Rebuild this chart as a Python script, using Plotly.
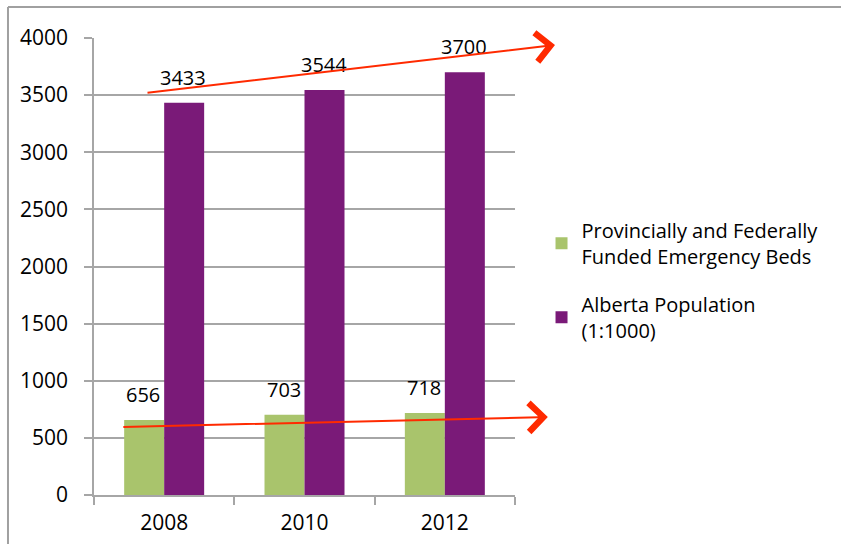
import plotly.graph_objects as go

years = ["2008", "2010", "2012"]
beds = [656, 703, 718]
population = [3433, 3544, 3700]
y_ticks = [0, 500, 1000, 1500, 2000, 2500, 3000, 3500, 4000]

GREEN = "#A9C46C"
PURPLE = "#7A1A78"
RED = "#FF2A00"
GRID = "#A6A6A6"
FONT = "Open Sans"

fig = go.Figure()
fig.add_trace(go.Bar(x=years, y=beds, name="Provincially and Federally<br>Funded Emergency Beds",
                     marker=dict(color=GREEN, line=dict(width=0)), legendgroup="a"))
fig.add_trace(go.Bar(x=years, y=population, name="Alberta Population<br>(1:1000)",
                     marker=dict(color=PURPLE, line=dict(width=0)), legendgroup="b"))

annotations = []
for i, (b, p) in enumerate(zip(beds, population)):
    annotations.append(dict(x=i, y=b, xref="x", yref="y", text=str(b), showarrow=False,
                            xshift=-21, yshift=10, yanchor="bottom",
                            font=dict(family=FONT, size=20, color="black")))
    annotations.append(dict(x=i, y=p, xref="x", yref="y", text=str(p), showarrow=False,
                            xshift=19, yshift=10, yanchor="bottom",
                            font=dict(family=FONT, size=20, color="black")))

# red trend arrows (decorations)
annotations.append(dict(x=1.078, y=0.1707, xref="paper", yref="paper", ax=-426, ay=10,
                        axref="pixel", ayref="pixel", text="", showarrow=True,
                        arrowhead=4, arrowsize=2.8, arrowwidth=2, arrowcolor=RED))
annotations.append(dict(x=1.095, y=0.9847, xref="paper", yref="paper", ax=-409, ay=48,
                        axref="pixel", ayref="pixel", text="", showarrow=True,
                        arrowhead=4, arrowsize=2.8, arrowwidth=2, arrowcolor=RED))

shapes = [
    dict(type="line", xref="paper", yref="paper", x0=-0.2043, x1=-0.2043, y0=1.0678, y1=-0.2,
         line=dict(color="#A0A0A0", width=2)),
    dict(type="line", xref="paper", yref="paper", x0=-0.2043, x1=1.9, y0=1.0678, y1=1.0678,
         line=dict(color="#A0A0A0", width=2)),
]

fig.update_layout(
    width=841, height=544,
    margin=dict(l=94, r=326, t=38, b=49, autoexpand=False),
    paper_bgcolor="white", plot_bgcolor="white",
    barmode="group", bargap=0.43, bargroupgap=0,
    font=dict(family=FONT, size=20, color="black"),
    legend=dict(x=1.063, y=0.622, xanchor="left", yanchor="top",
                font=dict(family=FONT, size=20, color="black"),
                traceorder="grouped", tracegroupgap=19, itemwidth=30),
    annotations=annotations,
    shapes=shapes,
    xaxis=dict(type="category", range=[-0.5, 2.5], showline=True, linecolor=GRID, linewidth=1.5,
               ticks="outside", tickson="boundaries", ticklen=8, tickcolor=GRID, tickwidth=1.5,
               showgrid=False, ticklabelstandoff=8, automargin=False,
               tickfont=dict(family=FONT, size=21)),
    yaxis=dict(range=[0, 4000], tickvals=y_ticks, showline=True, linecolor=GRID, linewidth=1.5,
               ticks="outside", ticklen=8, tickcolor=GRID, tickwidth=1.5,
               showgrid=True, gridcolor=GRID, gridwidth=1.5, zeroline=False, automargin=False,
               ticklabelstandoff=12, tickfont=dict(family=FONT, size=21)),
)

fig.write_html("out.html")
